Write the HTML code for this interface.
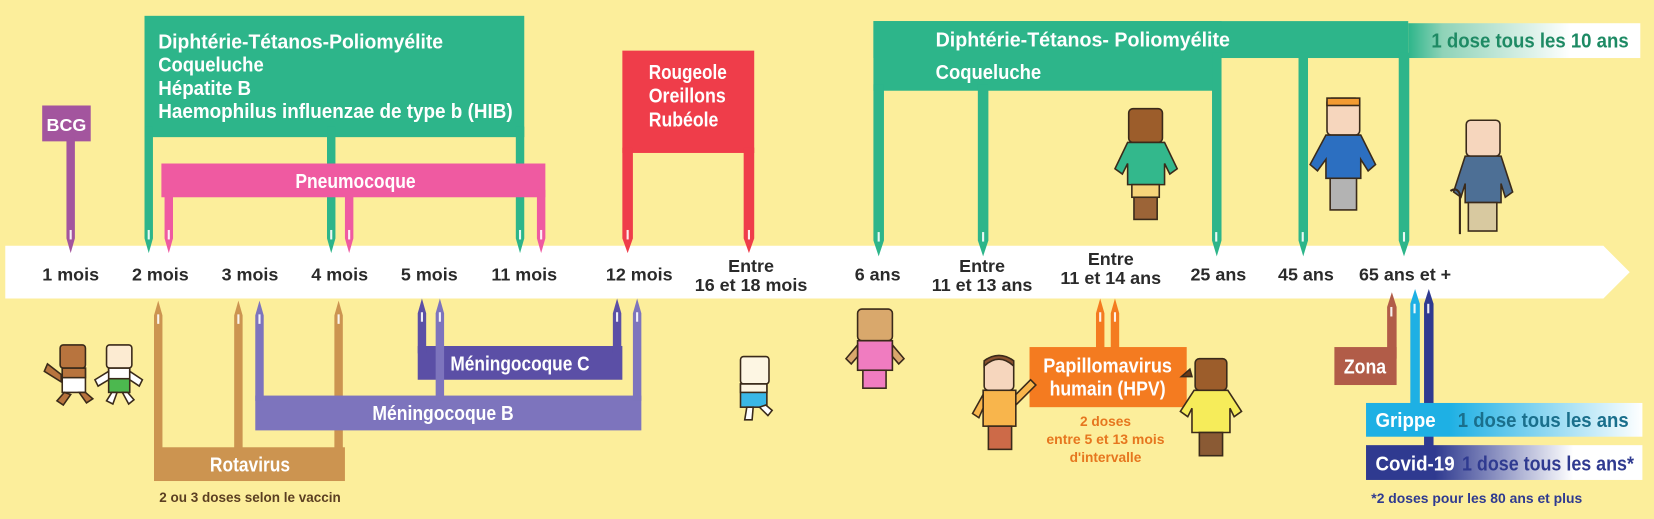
<!DOCTYPE html>
<html><head><meta charset="utf-8">
<style>
html,body{margin:0;padding:0;background:#fcee9b;}
body{width:1654px;height:519px;overflow:hidden;}
svg{display:block;}
.w{fill:#fff;font-family:"Liberation Sans Narrow","Liberation Sans",sans-serif;font-weight:bold;}
.l{fill:#2a2a2a;font-family:"Liberation Sans",sans-serif;font-weight:bold;font-size:17px;text-anchor:middle;}
.n{font-family:"Liberation Sans Narrow","Liberation Sans",sans-serif;font-weight:bold;}
.o{stroke:#3a2a1a;stroke-width:1.5;}
</style></head><body>
<svg width="1654" height="519" viewBox="0 0 1568 492" xmlns="http://www.w3.org/2000/svg">
<defs>
<linearGradient id="g10" x1="0" x2="1"><stop offset="0" stop-color="#2db58a"/><stop offset="0.15" stop-color="#8fd3b8"/><stop offset="0.7" stop-color="#ffffff"/></linearGradient>
<linearGradient id="gg" x1="0" x2="1"><stop offset="0" stop-color="#1eb0e4"/><stop offset="0.3" stop-color="#1eb0e4"/><stop offset="1" stop-color="#ffffff"/></linearGradient>
<linearGradient id="gc" x1="0" x2="1"><stop offset="0" stop-color="#2f3a90"/><stop offset="0.25" stop-color="#2f3a90"/><stop offset="0.75" stop-color="#ffffff"/></linearGradient>
</defs>
<rect width="1568" height="492" fill="#fcee9b"/>
<path d="M5 233 H1520 L1545 258 L1520 283 H5 Z" fill="#fff"/>

<rect x="40" y="100" width="46" height="34" fill="#a3559e"/>
<text class="w" x="63" y="124" font-size="17" text-anchor="middle">BCG</text>
<path d="M63 130 H71 V226 L67 240 L63 226 Z" fill="#a3559e"/>

<rect x="137" y="15" width="360" height="115" fill="#2db58a"/>
<path d="M137 120 H145 V226 L141 240 L137 226 Z" fill="#2db58a"/>
<path d="M310 120 H318 V226 L314 240 L310 226 Z" fill="#2db58a"/>
<path d="M489 120 H497 V226 L493 240 L489 226 Z" fill="#2db58a"/>
<text class="w" x="150" y="46" font-size="19" textLength="270" lengthAdjust="spacingAndGlyphs">Diphtérie-Tétanos-Poliomyélite</text>
<text class="w" x="150" y="68" font-size="19" textLength="100" lengthAdjust="spacingAndGlyphs">Coqueluche</text>
<text class="w" x="150" y="90" font-size="19" textLength="88" lengthAdjust="spacingAndGlyphs">Hépatite B</text>
<text class="w" x="150" y="112" font-size="19" textLength="336" lengthAdjust="spacingAndGlyphs">Haemophilus influenzae de type b (HIB)</text>

<rect x="153" y="155" width="364" height="32" fill="#ef5aa1"/>
<path d="M156 180 H164 V226 L160 240 L156 226 Z" fill="#ef5aa1"/>
<path d="M327 180 H335 V226 L331 240 L327 226 Z" fill="#ef5aa1"/>
<path d="M509 180 H517 V226 L513 240 L509 226 Z" fill="#ef5aa1"/>
<text class="w" x="337" y="178" font-size="19" text-anchor="middle" textLength="114" lengthAdjust="spacingAndGlyphs">Pneumocoque</text>

<rect x="590" y="48" width="125" height="97" fill="#ef3d4a"/>
<path d="M590 140 H600 V226 L595 240 L590 226 Z" fill="#ef3d4a"/>
<path d="M705 140 H715 V226 L710 240 L705 226 Z" fill="#ef3d4a"/>
<text class="w" x="615" y="75" font-size="19" textLength="74" lengthAdjust="spacingAndGlyphs">Rougeole</text>
<text class="w" x="615" y="97" font-size="19" textLength="73" lengthAdjust="spacingAndGlyphs">Oreillons</text>
<text class="w" x="615" y="120" font-size="19" textLength="66" lengthAdjust="spacingAndGlyphs">Rubéole</text>

<rect x="828" y="20" width="507" height="35" fill="#2db58a"/>
<rect x="828" y="20" width="330" height="66" fill="#2db58a"/>
<rect x="1335" y="22" width="220" height="33" fill="url(#g10)"/>
<path d="M828 80 H838 V228 L833 243 L828 228 Z" fill="#2db58a"/>
<path d="M927 80 H937 V228 L932 243 L927 228 Z" fill="#2db58a"/>
<path d="M1149 50 H1158 V228 L1153.5 243 L1149 228 Z" fill="#2db58a"/>
<path d="M1231 50 H1240 V228 L1235.5 243 L1231 228 Z" fill="#2db58a"/>
<path d="M1326 50 H1336 V228 L1331 243 L1326 228 Z" fill="#2db58a"/>
<text class="w" x="887" y="44" font-size="19" textLength="279" lengthAdjust="spacingAndGlyphs">Diphtérie-Tétanos- Poliomyélite</text>
<text class="w" x="887" y="75" font-size="19" textLength="100" lengthAdjust="spacingAndGlyphs">Coqueluche</text>
<text class="n" x="1357" y="45" font-size="19" fill="#1e8a64" textLength="187" lengthAdjust="spacingAndGlyphs">1 dose tous les 10 ans</text>

<g fill="#fff" opacity="0.9">
<rect x="66" y="218" width="2" height="9"/><rect x="140" y="218" width="2" height="9"/><rect x="159" y="218" width="2" height="9"/>
<rect x="313" y="218" width="2" height="9"/><rect x="330" y="218" width="2" height="9"/><rect x="492" y="218" width="2" height="9"/>
<rect x="512" y="218" width="2" height="9"/><rect x="594" y="218" width="2" height="9"/><rect x="709" y="218" width="2" height="9"/>
<rect x="832" y="220" width="2" height="9"/><rect x="931" y="220" width="2" height="9"/><rect x="1152" y="220" width="2" height="9"/>
<rect x="1234" y="220" width="2" height="9"/><rect x="1330" y="220" width="2" height="9"/>
</g>

<text class="l" x="67" y="266">1 mois</text>
<text class="l" x="152" y="266">2 mois</text>
<text class="l" x="237" y="266">3 mois</text>
<text class="l" x="322" y="266">4 mois</text>
<text class="l" x="407" y="266">5 mois</text>
<text class="l" x="497" y="266">11 mois</text>
<text class="l" x="606" y="266">12 mois</text>
<text class="l" x="712" y="258">Entre</text>
<text class="l" x="712" y="276">16 et 18 mois</text>
<text class="l" x="832" y="266">6 ans</text>
<text class="l" x="931" y="258">Entre</text>
<text class="l" x="931" y="276">11 et 13 ans</text>
<text class="l" x="1053" y="251">Entre</text>
<text class="l" x="1053" y="269">11 et 14 ans</text>
<text class="l" x="1155" y="266">25 ans</text>
<text class="l" x="1238" y="266">45 ans</text>
<text class="l" x="1332" y="266">65 ans et +</text>

<rect x="146" y="424" width="181" height="32" fill="#cc9450"/>
<path d="M146 430 V299 L150 285 L154 299 V430 Z" fill="#cc9450"/>
<path d="M222 430 V299 L226 285 L230 299 V430 Z" fill="#cc9450"/>
<path d="M317 430 V299 L321 285 L325 299 V430 Z" fill="#cc9450"/>
<text class="w" x="237" y="447" font-size="19" text-anchor="middle" textLength="76" lengthAdjust="spacingAndGlyphs">Rotavirus</text>
<text class="n" x="237" y="476" font-size="13" fill="#5b3f22" text-anchor="middle" textLength="172" lengthAdjust="spacingAndGlyphs">2 ou 3 doses selon le vaccin</text>

<rect x="242" y="375" width="366" height="33" fill="#7d74bd"/>
<path d="M242 380 V299 L246 285 L250 299 V380 Z" fill="#7d74bd"/>
<path d="M600 380 V297 L604 283 L608 297 V380 Z" fill="#7d74bd"/>
<text class="w" x="420" y="398" font-size="19" text-anchor="middle" textLength="134" lengthAdjust="spacingAndGlyphs">Méningocoque B</text>
<rect x="396" y="328" width="194" height="32" fill="#5b4fa6"/>
<path d="M396 335 V297 L400 283 L404 297 V335 Z" fill="#5b4fa6"/>
<path d="M581 335 V297 L585 283 L589 297 V335 Z" fill="#5b4fa6"/>
<path d="M413 380 V297 L417 283 L421 297 V380 Z" fill="#7d74bd"/>
<text class="w" x="493" y="351" font-size="19" text-anchor="middle" textLength="132" lengthAdjust="spacingAndGlyphs">Méningocoque C</text>

<path d="M1039 335 V297 L1043 283 L1047 297 V335 Z" fill="#f47b20"/>
<path d="M1053 335 V297 L1057 283 L1061 297 V335 Z" fill="#f47b20"/>
<rect x="976" y="329" width="149" height="57" fill="#f47b20"/>
<text class="w" x="1050" y="353" font-size="19" text-anchor="middle" textLength="122" lengthAdjust="spacingAndGlyphs">Papillomavirus</text>
<text class="w" x="1050" y="375" font-size="19" text-anchor="middle" textLength="110" lengthAdjust="spacingAndGlyphs">humain (HPV)</text>
<text class="n" x="1048" y="404" font-size="13" fill="#e6761e" text-anchor="middle">2 doses</text>
<text class="n" x="1048" y="421" font-size="13" fill="#e6761e" text-anchor="middle" textLength="112" lengthAdjust="spacingAndGlyphs">entre 5 et 13 mois</text>
<text class="n" x="1048" y="438" font-size="13" fill="#e6761e" text-anchor="middle">d'intervalle</text>

<path d="M1315 340 V291 L1319.5 277 L1324 291 V340 Z" fill="#b15c48"/>
<rect x="1265" y="329" width="59" height="36" fill="#b15c48"/>
<text class="w" x="1294" y="354" font-size="19" text-anchor="middle" textLength="40" lengthAdjust="spacingAndGlyphs">Zona</text>
<path d="M1337 400 V288 L1341.5 274 L1346 288 V400 Z" fill="#1eb0e4"/>
<path d="M1350 440 V288 L1354.5 274 L1359 288 V440 Z" fill="#2f3a90"/>
<rect x="1295" y="382" width="262" height="32" fill="url(#gg)"/>
<rect x="1295" y="422" width="262" height="33" fill="url(#gc)"/>
<text class="w" x="1304" y="405" font-size="19" textLength="57" lengthAdjust="spacingAndGlyphs">Grippe</text>
<text class="n" x="1463" y="405" font-size="19" fill="#1a6f8c" text-anchor="middle" textLength="162" lengthAdjust="spacingAndGlyphs">1 dose tous les ans</text>
<text class="w" x="1304" y="446" font-size="19" textLength="75" lengthAdjust="spacingAndGlyphs">Covid-19</text>
<text class="n" x="1386" y="446" font-size="19" fill="#2f3a90" textLength="163" lengthAdjust="spacingAndGlyphs">1 dose tous les ans*</text>
<text class="n" x="1300" y="477" font-size="13" fill="#2f3a90" textLength="200" lengthAdjust="spacingAndGlyphs">*2 doses pour les 80 ans et plus</text>

<g fill="#fff" opacity="0.9">
<rect x="149" y="298" width="2" height="9"/><rect x="225" y="298" width="2" height="9"/><rect x="320" y="298" width="2" height="9"/>
<rect x="245" y="298" width="2" height="9"/><rect x="603" y="296" width="2" height="9"/><rect x="399" y="296" width="2" height="9"/>
<rect x="416" y="296" width="2" height="9"/><rect x="584" y="296" width="2" height="9"/><rect x="1042" y="296" width="2" height="9"/>
<rect x="1056" y="296" width="2" height="9"/><rect x="1318" y="291" width="2" height="9"/><rect x="1340" y="288" width="2" height="9"/>
<rect x="1353" y="288" width="2" height="9"/>
</g>

<g class="o">
<!-- babies -->
<path d="M58 355 L45 345 L42 352 L58 362 Z" fill="#b8743e"/>
<rect x="57" y="327" width="24" height="22" rx="3" fill="#b8743e"/>
<rect x="59" y="349" width="22" height="23" fill="#fff"/>
<rect x="59" y="349" width="22" height="9" fill="#b8743e"/>
<path d="M61 372 L54 380 L60 384 L67 374 Z M75 372 L82 382 L88 378 L81 372 Z" fill="#b8743e"/>
<rect x="101" y="327" width="24" height="22" rx="3" fill="#fcebd2"/>
<rect x="103" y="349" width="20" height="23" fill="#4cb84f"/>
<rect x="103" y="349" width="20" height="10" fill="#fff"/>
<path d="M103 352 L90 360 L93 366 L103 360 Z M123 352 L135 360 L132 366 L123 360 Z" fill="#fff"/>
<path d="M106 372 L101 380 L107 383 L111 372 Z M116 372 L122 383 L127 379 L121 372 Z" fill="#fff"/>
<!-- toddler -->
<rect x="702" y="338" width="27" height="26" rx="3" fill="#fdf6e3"/>
<rect x="702" y="364" width="25" height="22" fill="#3ab7e6"/>
<rect x="702" y="364" width="25" height="8" fill="#fdf6e3"/>
<path d="M708 386 L706 398 L713 398 L714 386 Z M720 386 L728 394 L732 389 L726 384 Z" fill="#fff"/>
<!-- pink child -->
<rect x="813" y="293" width="33" height="30" rx="4" fill="#d9a86c"/>
<rect x="813" y="323" width="33" height="28" fill="#f07cc0"/>
<path d="M813 327 L802 340 L807 345 L813 338 Z M846 327 L857 340 L852 345 L846 338 Z" fill="#d9a86c"/>
<rect x="818" y="351" width="22" height="17" fill="#f07cc0"/>
<!-- teen boy -->
<g transform="translate(-58,-18)">
<rect x="991" y="358" width="28" height="30" rx="4" fill="#f6d6bd"/>
<path d="M991 365 Q1005 352 1019 365 V360 Q1005 350 991 360 Z" fill="#8a5230"/>
<rect x="990" y="388" width="31" height="34" fill="#f8b54c"/>
<path d="M990 392 L980 410 L986 414 L990 405 Z M1021 392 L1035 378 L1040 383 L1021 402 Z" fill="#f8b54c"/>
<rect x="995" y="422" width="22" height="22" fill="#cd6a48"/>
</g>
<!-- girl HPV -->
<g transform="translate(-60,-15)">
<rect x="1193" y="355" width="30" height="30" rx="4" fill="#9c5d2b"/>
<path d="M1188 365 L1180 372 L1190 372 Z" fill="#6b3b18"/>
<path d="M1192 385 H1224 L1237 405 L1230 410 L1226 402 V425 H1190 V402 L1186 410 L1179 405 Z" fill="#f6ec5a"/>
<rect x="1197" y="425" width="22" height="22" fill="#8a5a34"/>
</g>
<!-- teen green top -->
<g transform="translate(-48,-5)">
<rect x="1118" y="108" width="32" height="32" rx="4" fill="#9c5d2b"/>
<path d="M1117 140 H1152 L1164 165 L1157 170 L1152 160 V180 H1117 V160 L1112 170 L1105 165 Z" fill="#33b88c"/>
<rect x="1121" y="180" width="26" height="12" fill="#f6d47a"/>
<rect x="1123" y="192" width="22" height="21" fill="#9c6437"/>
</g>
<!-- adult blue -->
<g transform="translate(-73,-4)">
<rect x="1331" y="97" width="31" height="35" rx="4" fill="#f6d6bd"/>
<rect x="1331" y="97" width="31" height="7" fill="#f39b32"/>
<path d="M1330 132 H1363 L1377 160 L1370 166 L1363 155 V173 H1330 V155 L1322 166 L1315 160 Z" fill="#2c6fc1"/>
<rect x="1334" y="173" width="25" height="30" fill="#b3b3b3"/>
</g>
<!-- elder -->
<g transform="translate(-77,-6)">
<rect x="1467" y="120" width="32" height="34" rx="4" fill="#f6d6bd"/>
<path d="M1466 154 H1500 L1511 188 L1504 193 L1500 180 V198 H1466 V180 L1462 193 L1455 188 Z" fill="#4d6f95"/>
<rect x="1469" y="198" width="27" height="27" fill="#d8c9a0"/>
<path d="M1461 228 V190 Q1458 183 1452 187" fill="none" stroke-width="2"/>
</g>
</g>
</svg>
</body></html>
